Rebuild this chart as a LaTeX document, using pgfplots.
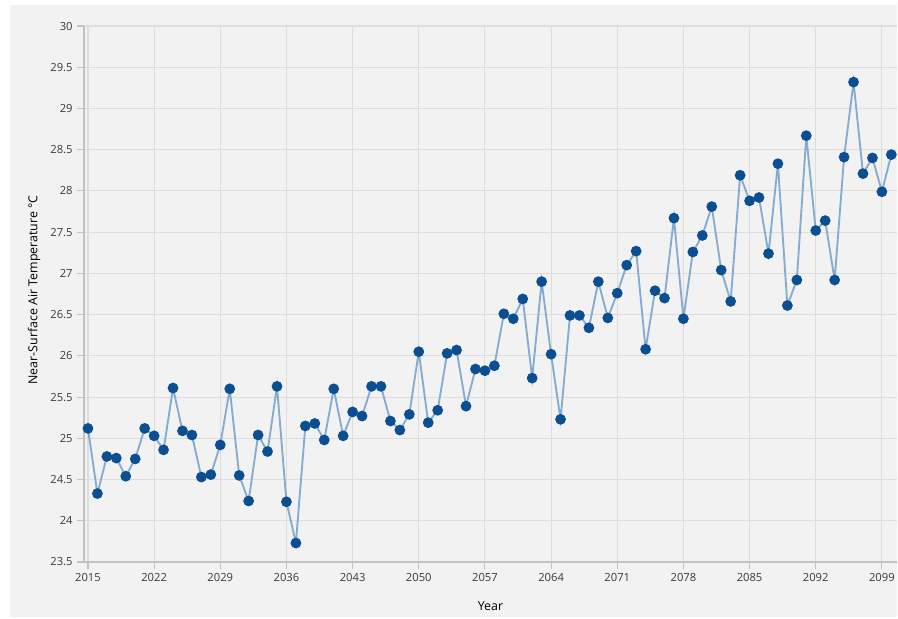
\documentclass[border=0pt]{standalone}
\usepackage{pgfplots}
\pgfplotsset{compat=1.18}
\usepackage{pgfplotstable}
\usepackage{fontspec}
\setmainfont{Open Sans}

\definecolor{panel}{HTML}{F2F2F2}
\definecolor{gridc}{HTML}{DDDDDD}
\definecolor{axisc}{HTML}{C2C2C2}
\definecolor{linec}{HTML}{73A0CB}
\definecolor{markc}{HTML}{0B4F92}
\definecolor{txt}{HTML}{3A3A3A}

% year, near-surface air temperature (deg C)
\pgfplotstableread{
year temp
2015 25.12
2016 24.33
2017 24.78
2018 24.76
2019 24.54
2020 24.75
2021 25.12
2022 25.03
2023 24.86
2024 25.61
2025 25.09
2026 25.04
2027 24.53
2028 24.56
2029 24.92
2030 25.60
2031 24.55
2032 24.24
2033 25.04
2034 24.84
2035 25.63
2036 24.23
2037 23.73
2038 25.15
2039 25.18
2040 24.98
2041 25.60
2042 25.03
2043 25.32
2044 25.27
2045 25.63
2046 25.63
2047 25.21
2048 25.10
2049 25.29
2050 26.05
2051 25.19
2052 25.34
2053 26.03
2054 26.07
2055 25.39
2056 25.84
2057 25.82
2058 25.88
2059 26.51
2060 26.45
2061 26.69
2062 25.73
2063 26.90
2064 26.02
2065 25.23
2066 26.49
2067 26.49
2068 26.34
2069 26.90
2070 26.46
2071 26.76
2072 27.10
2073 27.27
2074 26.08
2075 26.79
2076 26.70
2077 27.67
2078 26.45
2079 27.26
2080 27.46
2081 27.81
2082 27.04
2083 26.66
2084 28.19
2085 27.88
2086 27.92
2087 27.24
2088 28.33
2089 26.61
2090 26.92
2091 28.67
2092 27.52
2093 27.64
2094 26.92
2095 28.41
2096 29.32
2097 28.21
2098 28.40
2099 27.99
2100 28.44
}\temps

\begin{document}
\begin{tikzpicture}
\fill[white] (-63pt,-42pt) rectangle (610.5pt,421.5pt);
\fill[panel] (-55.5pt,-41.25pt) rectangle (609.75pt,417.75pt);
\begin{axis}[
    scale only axis,
    width=609.75pt,
    height=402pt,
    xmin=2014.58, xmax=2100.6,
    ymin=23.5, ymax=30,
    xtick={2015,2022,...,2099},
    ytick={23.5,24,...,30},
    axis lines=left,
    axis line style={-, draw=axisc, line width=1.2pt},
    grid=major,
    major grid style={draw=gridc, line width=0.8pt},
    tick align=outside,
    major tick length=5pt,
    tick style={draw=axisc, line width=0.8pt},
    /pgf/number format/assume math mode=true,
    /pgf/number format/1000 sep={},
    ticklabel style={font=\fontsize{8.4}{10}\selectfont, text=txt},
    xlabel={Year},
    ylabel={Near-Surface Air Temperature °C},
    label style={font=\fontsize{9.3}{11}\selectfont, text=black},
    xlabel style={at={(axis description cs:0.5,0)}, anchor=center, yshift=-33pt},
    ylabel style={at={(axis description cs:0,0.5)}, anchor=center, yshift=37.5pt, xshift=3pt},
]
\addplot[color=linec, line width=1.4pt, opacity=0.85,
    mark=*, mark size=3.3pt,
    mark options={fill=markc, draw=markc, opacity=1}]
    table[x=year, y=temp] {\temps};
\end{axis}
\pgfresetboundingbox
\path[use as bounding box] (-63pt,-42pt) rectangle (610.5pt,421.5pt);
\end{tikzpicture}
\end{document}
